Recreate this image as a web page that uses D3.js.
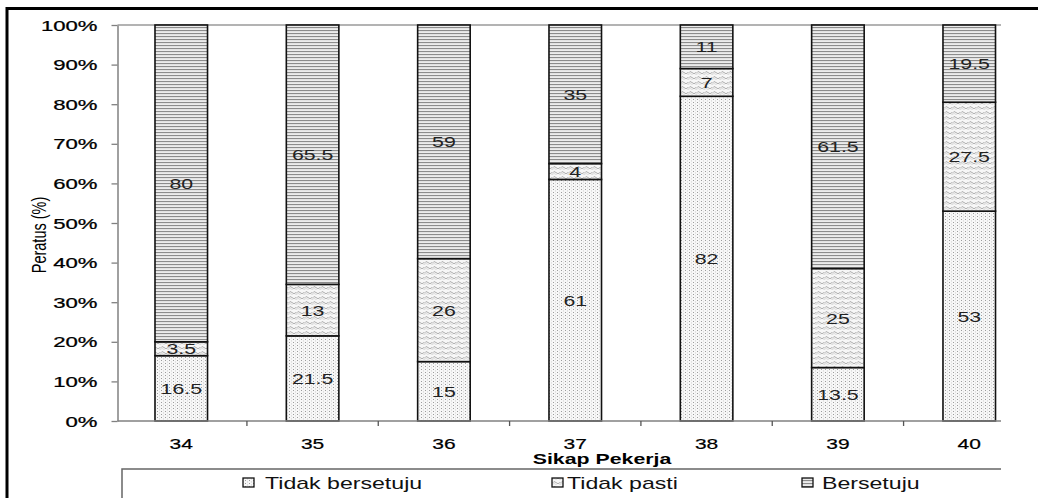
<!DOCTYPE html>
<html>
<head>
<meta charset="utf-8">
<script src="https://cdn.jsdelivr.net/npm/d3@7"></script>
<style>
  html, body { margin: 0; padding: 0; background: #fff; }
  svg { display: block; }
  text { font-family: "Liberation Sans", Arial, sans-serif; fill: #000; }
</style>
</head>
<body>
<svg id="chart" width="1038" height="498"></svg>
<script>
const categories = ["34", "35", "36", "37", "38", "39", "40"];
const tidakBersetuju = [16.5, 21.5, 15, 61, 82, 13.5, 53];
const tidakPasti = [3.5, 13, 26, 4, 7, 25, 27.5];
const bersetuju = [80, 65.5, 59, 35, 11, 61.5, 19.5];
const seriesNames = ["Tidak bersetuju", "Tidak pasti", "Bersetuju"];
const yTicks = [0, 10, 20, 30, 40, 50, 60, 70, 80, 90, 100];
const xTitle = "Sikap Pekerja";
const yTitle = "Peratus (%)";

const svg = d3.select("#chart");
const W = 1038, H = 498;
const plot = { left: 117.5, top: 25, bottom: 421, right: 1001 };

// patterns
const defs = svg.append("defs");
const pDots = defs.append("pattern").attr("id", "pDots").attr("patternUnits", "userSpaceOnUse")
  .attr("width", 4).attr("height", 3);
pDots.append("rect").attr("width", 4).attr("height", 3).attr("fill", "#f7f7f7");
pDots.append("rect").attr("x", 1).attr("y", 0).attr("width", 1).attr("height", 1).attr("fill", "#9c9c9c");
pDots.append("rect").attr("x", 3).attr("y", 1.5).attr("width", 0.9).attr("height", 0.9).attr("fill", "#c4c4c4");

const pWave = defs.append("pattern").attr("id", "pWave").attr("patternUnits", "userSpaceOnUse")
  .attr("width", 8).attr("height", 5);
pWave.append("rect").attr("width", 8).attr("height", 5).attr("fill", "#f7f7f7");
pWave.append("path").attr("d", "M0,3.5 Q2,0 4,2.5 T8,2.5").attr("fill", "none").attr("stroke", "#a6a6a6").attr("stroke-width", 0.9);
pWave.append("path").attr("d", "M0,5 Q2,2 4,4.5 T8,4.5").attr("fill", "none").attr("stroke", "#cacaca").attr("stroke-width", 0.6);

const pLines = defs.append("pattern").attr("id", "pLines").attr("patternUnits", "userSpaceOnUse")
  .attr("width", 6).attr("height", 3);
pLines.append("rect").attr("width", 6).attr("height", 3).attr("fill", "#ececec");
pLines.append("rect").attr("x", 0).attr("y", 0).attr("width", 6).attr("height", 1.1).attr("fill", "#8c8c8c");

const fills = ["url(#pDots)", "url(#pWave)", "url(#pLines)"];

// data table
const table = categories.map((c, i) => ({
  cat: c,
  "Tidak bersetuju": tidakBersetuju[i],
  "Tidak pasti": tidakPasti[i],
  "Bersetuju": bersetuju[i]
}));
const stacked = d3.stack().keys(seriesNames)(table);

const x = d3.scaleBand().domain(categories).range([117.5, 1033]).paddingInner(0.6).paddingOuter(0.2855);
const y = d3.scaleLinear().domain([0, 100]).range([plot.bottom, plot.top]);

// outer frame
svg.append("path").attr("d", `M7,${H} V8.5 H${W}`).attr("fill", "none").attr("stroke", "#000").attr("stroke-width", 3);

// top plot border
svg.append("line").attr("x1", plot.left).attr("x2", plot.right).attr("y1", plot.top).attr("y2", plot.top)
  .attr("stroke", "#9a9a9a").attr("stroke-width", 1.5);

// bars
const layers = svg.append("g").selectAll("g").data(stacked).join("g")
  .attr("fill", (d, i) => fills[i]);
layers.selectAll("rect").data(d => d).join("rect")
  .attr("x", d => x(d.data.cat))
  .attr("width", x.bandwidth())
  .attr("y", d => y(d[1]))
  .attr("height", d => y(d[0]) - y(d[1]))
  .attr("stroke", "#111").attr("stroke-width", 1.6);

// value labels
const sxVal = 1.42;
stacked.forEach((layer, li) => {
  layer.forEach(d => {
    const v = d[1] - d[0];
    const cx = x(d.data.cat) + x.bandwidth() / 2;
    const cy = (y(d[0]) + y(d[1])) / 2;
    svg.append("text")
      .attr("transform", `translate(${cx},${cy + 5.5}) scale(${sxVal},1)`)
      .attr("text-anchor", "middle")
      .attr("font-size", 15)
      .style("fill", "#222")
      .text(String(v));
  });
});

// y axis
const yAxis = svg.append("g").attr("transform", `translate(${plot.left},0)`)
  .call(d3.axisLeft(y).tickValues(yTicks).tickSize(6).tickSizeOuter(0).tickFormat(d => d + "%"));
yAxis.select(".domain").attr("stroke", "#808080").attr("stroke-width", 1.5);
yAxis.selectAll(".tick line").attr("stroke", "#808080").attr("stroke-width", 1.3);
yAxis.selectAll(".tick text")
  .attr("x", 0).attr("dy", null).attr("y", 5)
  .attr("transform", "translate(-20,0) scale(1.58,1)")
  .attr("text-anchor", "end")
  .attr("font-size", 14)
  .attr("font-family", "Liberation Sans, Arial, sans-serif")
  .attr("stroke", "#000").attr("stroke-width", 0.25)
  .attr("fill", "#000");

// x axis line
svg.append("line").attr("x1", plot.left).attr("x2", plot.right).attr("y1", plot.bottom).attr("y2", plot.bottom)
  .attr("stroke", "#808080").attr("stroke-width", 1.5);
// x ticks at band boundaries
const step = x.step();
categories.slice(0, -1).forEach(c => {
  const bx = x(c) + x.bandwidth() + (step - x.bandwidth()) / 2;
  svg.append("line").attr("x1", bx).attr("x2", bx).attr("y1", plot.bottom).attr("y2", plot.bottom + 5)
    .attr("stroke", "#555").attr("stroke-width", 1.3);
});
// x labels
categories.forEach(c => {
  svg.append("text")
    .attr("transform", `translate(${x(c) + x.bandwidth() / 2},${449}) scale(1.4,1)`)
    .attr("text-anchor", "middle").attr("font-size", 15)
    .attr("stroke", "#000").attr("stroke-width", 0.2)
    .text(c);
});

// x title
svg.append("text")
  .attr("transform", `translate(602,463.5) scale(1.47,1)`)
  .attr("text-anchor", "middle").attr("font-size", 14.5).attr("font-weight", "bold")
  .text(xTitle);

// y title
svg.append("text")
  .attr("transform", `translate(46,235) scale(1.45,1) rotate(-90)`)
  .attr("text-anchor", "middle").attr("font-size", 14.5)
  .text(yTitle);

// legend frame
svg.append("path").attr("d", `M122,${H} V469 H${plot.right}`).attr("fill", "none")
  .attr("stroke", "#666").attr("stroke-width", 1.5);

const legendPos = [{ sym: 243, txt: 265 }, { sym: 552, txt: 567 }, { sym: 802, txt: 822 }];
seriesNames.forEach((name, i) => {
  svg.append("rect").attr("x", legendPos[i].sym).attr("y", 478).attr("width", 11).attr("height", 9)
    .attr("fill", fills[i]).attr("stroke", "#111").attr("stroke-width", 1.3);
  svg.append("text")
    .attr("transform", `translate(${legendPos[i].txt},489) scale(1.36,1)`)
    .attr("font-size", 17).style("fill", "#111")
    .text(name);
});
</script>
</body>
</html>
